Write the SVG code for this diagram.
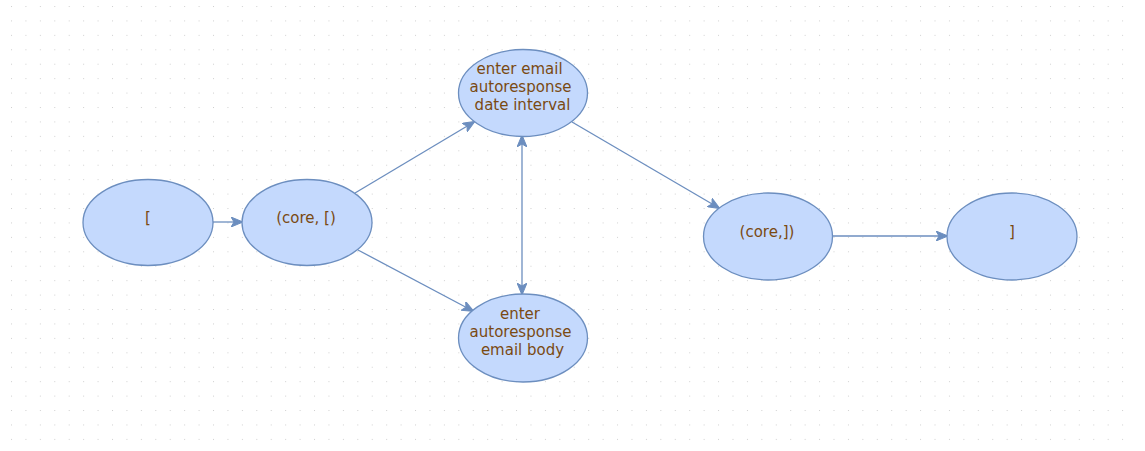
<svg xmlns="http://www.w3.org/2000/svg" width="1145" height="451" viewBox="0 0 1145 451">
<style>
.n ellipse{fill:#c4d9fd;stroke:#6c8ebf;stroke-width:1.3}
.n text{font-family:"DejaVu Sans",sans-serif;font-size:15px;fill:#7a4a12;text-anchor:middle}
.e path{fill:none;stroke:#6c8ebf;stroke-width:1.3}
</style>
<defs>
<pattern id="grid" x="11" y="6" width="14.43" height="14.43" patternUnits="userSpaceOnUse">
<rect x="0" y="0" width="1" height="1" fill="#cfcfcf"/>
</pattern>
<marker id="ah" viewBox="0 0 12 10" refX="11" refY="5" markerWidth="12" markerHeight="10" markerUnits="userSpaceOnUse" orient="auto-start-reverse">
<path d="M0,0 L12,5 L0,10 L3,5 Z" fill="#6c8ebf" stroke="#6c8ebf" stroke-width="1"/>
</marker>
</defs>
<rect width="1145" height="451" fill="#ffffff"/>
<rect x="10" y="5" width="1125" height="436" fill="url(#grid)"/>
<g class="e" id="edges">
<path d="M213,222 L242,222" marker-end="url(#ah)"/>
<path d="M355,193 L474,122" marker-end="url(#ah)"/>
<path d="M358,250 L473,311" marker-end="url(#ah)"/>
<path d="M522,136 L522,294" marker-start="url(#ah)" marker-end="url(#ah)"/>
<path d="M572,122 L719,208" marker-end="url(#ah)"/>
<path d="M833,236 L947,236" marker-end="url(#ah)"/>
</g>
<g class="n" id="n1"><ellipse cx="148" cy="222.5" rx="65" ry="43"/><text x="148" y="223">[</text></g>
<g class="n" id="n2"><ellipse cx="307" cy="222.5" rx="65" ry="43"/><text x="306" y="223">(core, [)</text></g>
<g class="n" id="n3"><ellipse cx="523" cy="93" rx="64.5" ry="43.5"/><text x="519.5" y="74">enter email</text><text x="520.5" y="92">autoresponse</text><text x="522.5" y="110">date interval</text></g>
<g class="n" id="n4"><ellipse cx="523" cy="338" rx="64.5" ry="44"/><text x="520" y="319">enter</text><text x="520.5" y="337">autoresponse</text><text x="522.5" y="355">email body</text></g>
<g class="n" id="n5"><ellipse cx="768" cy="236.5" rx="64.5" ry="43.5"/><text x="767" y="237">(core,])</text></g>
<g class="n" id="n6"><ellipse cx="1012" cy="236.5" rx="65" ry="43.5"/><text x="1012" y="237">]</text></g>
</svg>
